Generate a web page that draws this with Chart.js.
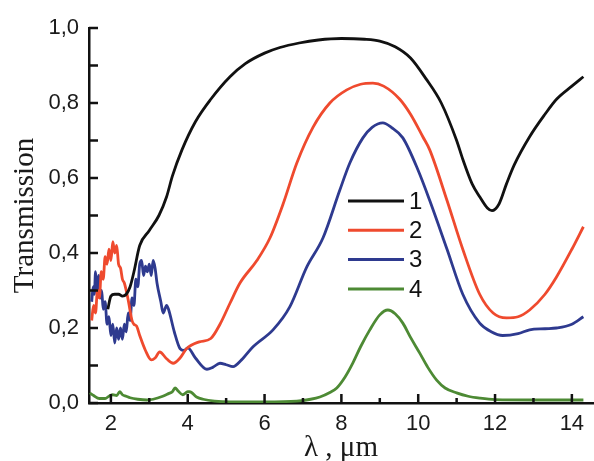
<!DOCTYPE html>
<html>
<head>
<meta charset="utf-8">
<script src="https://cdn.jsdelivr.net/npm/chart.js@4"></script>
<style>
    html, body { margin: 0; padding: 0; background: #fff; }
</style>
</head>
<body>
<canvas id="chart" width="594" height="461"></canvas>
<script>
// Transmission spectra, curves 1-4

const xTicks = [2, 4, 6, 8, 10, 12, 14];
const xMinorTicks = [3, 5, 7, 9, 11, 13];
const yTicks = [0, 0.2, 0.4, 0.6, 0.8, 1.0];
const yMinorTicks = [0.1, 0.3, 0.5, 0.7, 0.9];
const seriesLabels = ['1', '2', '3', '4'];
const seriesColors = ['#111111', '#ef4a2e', '#2e3a8f', '#4d8a34'];

// curve 1
const wl1 = [1.92, 2.0, 2.1, 2.2, 2.3, 2.4, 2.5, 2.6, 2.75, 3.0, 3.25, 3.45, 3.6, 3.85, 4.2, 4.6, 5.1, 5.5, 6.0, 6.4, 6.9, 7.4, 8.0, 8.6, 9.0, 9.4, 9.8, 10.2, 10.6, 11.0, 11.16, 11.4, 11.6, 11.8, 11.92, 12.1, 12.3, 12.5, 12.9, 13.3, 13.6, 14.0, 14.3];
const t1  = [0.25, 0.285, 0.29, 0.29, 0.285, 0.29, 0.31, 0.35, 0.42, 0.46, 0.50, 0.55, 0.605, 0.675, 0.75, 0.81, 0.87, 0.905, 0.933, 0.948, 0.96, 0.968, 0.972, 0.97, 0.965, 0.95, 0.92, 0.865, 0.80, 0.70, 0.65, 0.585, 0.55, 0.52, 0.513, 0.53, 0.585, 0.635, 0.71, 0.77, 0.81, 0.845, 0.87];

// curve 2
const wl2 = [1.5, 1.55, 1.6, 1.65, 1.7, 1.75, 1.8, 1.85, 1.9, 1.95, 2.0, 2.05, 2.1, 2.15, 2.2, 2.25, 2.3, 2.35, 2.45, 2.55, 2.6, 2.67, 2.75, 2.9, 3.05, 3.15, 3.27, 3.45, 3.62, 3.8, 3.97, 4.3, 4.6, 4.84, 5.1, 5.36, 5.8, 6.14, 6.48, 6.84, 7.26, 7.7, 8.14, 8.5, 8.82, 9.1, 9.52, 9.8, 10.12, 10.3, 10.75, 11.16, 11.6, 11.95, 12.3, 12.6, 12.9, 13.3, 13.6, 14.0, 14.3];
const t2  = [0.22, 0.26, 0.24, 0.30, 0.28, 0.35, 0.33, 0.39, 0.37, 0.41, 0.38, 0.43, 0.40, 0.42, 0.37, 0.36, 0.33, 0.32, 0.275, 0.22, 0.21, 0.205, 0.18, 0.14, 0.115, 0.12, 0.136, 0.118, 0.106, 0.12, 0.145, 0.163, 0.172, 0.21, 0.266, 0.32, 0.38, 0.44, 0.53, 0.64, 0.735, 0.80, 0.835, 0.85, 0.853, 0.845, 0.81, 0.77, 0.71, 0.675, 0.54, 0.41, 0.29, 0.24, 0.227, 0.23, 0.248, 0.29, 0.336, 0.41, 0.47];

// curve 3
const wl3 = [1.5, 1.54, 1.57, 1.6, 1.64, 1.68, 1.72, 1.76, 1.8, 1.85, 1.9, 1.95, 2.0, 2.05, 2.1, 2.15, 2.2, 2.25, 2.3, 2.35, 2.4, 2.45, 2.5, 2.55, 2.6, 2.65, 2.7, 2.75, 2.8, 2.85, 2.9, 2.95, 3.0, 3.05, 3.1, 3.15, 3.2, 3.3, 3.36, 3.45, 3.5, 3.65, 3.8, 3.9, 4.0, 4.2, 4.5, 4.65, 4.84, 5.0, 5.18, 5.4, 5.7, 6.22, 6.66, 7.1, 7.52, 7.96, 8.22, 8.56, 8.8, 9.08, 9.3, 9.6, 10.0, 10.3, 10.75, 11.16, 11.6, 11.9, 12.2, 12.6, 12.9, 13.3, 13.6, 14.0, 14.3];
const t3  = [0.27, 0.31, 0.29, 0.35, 0.30, 0.34, 0.28, 0.30, 0.25, 0.27, 0.21, 0.23, 0.18, 0.21, 0.16, 0.20, 0.17, 0.20, 0.17, 0.21, 0.19, 0.24, 0.22, 0.28, 0.26, 0.33, 0.31, 0.37, 0.38, 0.34, 0.365, 0.35, 0.37, 0.34, 0.38, 0.36, 0.32, 0.27, 0.24, 0.26, 0.25, 0.19, 0.145, 0.14, 0.147, 0.12, 0.09, 0.095, 0.106, 0.102, 0.097, 0.115, 0.15, 0.195, 0.257, 0.363, 0.44, 0.568, 0.64, 0.707, 0.735, 0.747, 0.735, 0.707, 0.62, 0.54, 0.41, 0.29, 0.213, 0.19, 0.18, 0.185, 0.195, 0.198, 0.20, 0.21, 0.23];

// curve 4
const wl4 = [1.45, 1.55, 1.7, 1.85, 1.95, 2.05, 2.15, 2.23, 2.3, 2.4, 2.5, 2.7, 2.94, 3.1, 3.35, 3.5, 3.6, 3.67, 3.75, 3.87, 4.0, 4.05, 4.23, 4.4, 4.7, 5.1, 6.0, 6.84, 7.2, 7.44, 7.7, 7.88, 8.1, 8.3, 8.5, 8.74, 9.0, 9.21, 9.4, 9.6, 9.8, 10.04, 10.25, 10.48, 10.7, 11.0, 11.3, 11.6, 12.0, 13.0, 14.3];
const t4  = [0.027, 0.02, 0.012, 0.012, 0.018, 0.022, 0.02, 0.03, 0.022, 0.018, 0.014, 0.01, 0.008, 0.01, 0.018, 0.025, 0.03, 0.04, 0.032, 0.022, 0.03, 0.03, 0.016, 0.01, 0.005, 0.003, 0.003, 0.005, 0.01, 0.016, 0.028, 0.04, 0.07, 0.107, 0.15, 0.195, 0.235, 0.248, 0.238, 0.213, 0.175, 0.133, 0.095, 0.061, 0.04, 0.027, 0.018, 0.013, 0.009, 0.008, 0.008];

const wavelengths = [wl1, wl2, wl3, wl4];
const transmissions = [t1, t2, t3, t4];

function toPoints(xs, ys) {
    return xs.map((x, i) => ({ x: x, y: ys[i] }));
}

// Ticks pointing into the plot, like the original
const innerTicks = {
    id: 'innerTicks',
    afterDraw(chart) {
        const { ctx, chartArea: a, scales } = chart;
        ctx.save();
        ctx.strokeStyle = '#111';
        ctx.lineWidth = 2.5;
        ctx.beginPath();
        xTicks.forEach(v => {
            const px = scales.x.getPixelForValue(v);
            ctx.moveTo(px, a.bottom);
            ctx.lineTo(px, a.bottom - 9);
        });
        xMinorTicks.forEach(v => {
            const px = scales.x.getPixelForValue(v);
            ctx.moveTo(px, a.bottom);
            ctx.lineTo(px, a.bottom - 5);
        });
        yTicks.concat(yMinorTicks).forEach(v => {
            const py = scales.y.getPixelForValue(v);
            ctx.moveTo(a.left, py);
            ctx.lineTo(a.left + 9, py);
        });
        ctx.stroke();
        ctx.restore();
    }
};

// Legend block inside the plot
const insideLegend = {
    id: 'insideLegend',
    afterDraw(chart) {
        const ctx = chart.ctx;
        ctx.save();
        ctx.font = '24px "Liberation Sans", Arial, sans-serif';
        ctx.textBaseline = 'middle';
        chart.data.datasets.forEach((ds, i) => {
            const yy = 201 + i * 29.3;
            ctx.strokeStyle = ds.borderColor;
            ctx.lineWidth = 3;
            ctx.beginPath();
            ctx.moveTo(348, yy);
            ctx.lineTo(404, yy);
            ctx.stroke();
            ctx.fillStyle = '#111';
            ctx.fillText(ds.label, 409, yy + 1);
        });
        ctx.restore();
    }
};

const tickFont = { family: '"Liberation Sans", Arial, sans-serif', size: 22 };
const titleFamily = '"Liberation Serif", "Times New Roman", serif';

new Chart(document.getElementById('chart'), {
    type: 'line',
    data: {
        datasets: seriesLabels.map((label, i) => ({
            label: label,
            data: toPoints(wavelengths[i], transmissions[i]),
            borderColor: seriesColors[i],
            borderWidth: 2.8,
            pointRadius: 0,
            fill: false,
            cubicInterpolationMode: 'monotone'
        }))
    },
    options: {
        responsive: false,
        animation: false,
        layout: { padding: { top: 28, right: 1, left: 0, bottom: 0 } },
        plugins: {
            legend: { display: false },
            tooltip: { enabled: false }
        },
        scales: {
            x: {
                type: 'linear',
                min: 1.43,
                max: 14.55,
                afterFit: s => { s.height = 58; },
                afterBuildTicks: s => { s.ticks = xTicks.map(v => ({ value: v })); },
                grid: { display: false, drawTicks: false },
                border: { display: true, color: '#111', width: 2.5 },
                ticks: {
                    padding: 8,
                    color: '#1a1a1a',
                    font: tickFont,
                    maxRotation: 0,
                    callback: v => String(v)
                },
                title: {
                    display: true,
                    text: 'λ , μm',
                    color: '#1a1a1a',
                    font: { family: titleFamily, size: 29, lineHeight: 0.9 },
                    padding: { top: 0, bottom: 0 }
                }
            },
            y: {
                min: 0,
                max: 1,
                afterFit: s => { s.width = 89; },
                afterBuildTicks: s => { s.ticks = yTicks.map(v => ({ value: v })); },
                grid: { display: false, drawTicks: false },
                border: { display: true, color: '#111', width: 2.5 },
                ticks: {
                    padding: 10,
                    color: '#1a1a1a',
                    font: tickFont,
                    callback: v => v.toFixed(1).replace('.', ',')
                },
                title: {
                    display: true,
                    text: 'Transmission',
                    color: '#1a1a1a',
                    font: { family: titleFamily, size: 29, lineHeight: 1 },
                    padding: { top: 11, bottom: 0 }
                }
            }
        }
    },
    plugins: [innerTicks, insideLegend]
});
</script>
</body>
</html>
